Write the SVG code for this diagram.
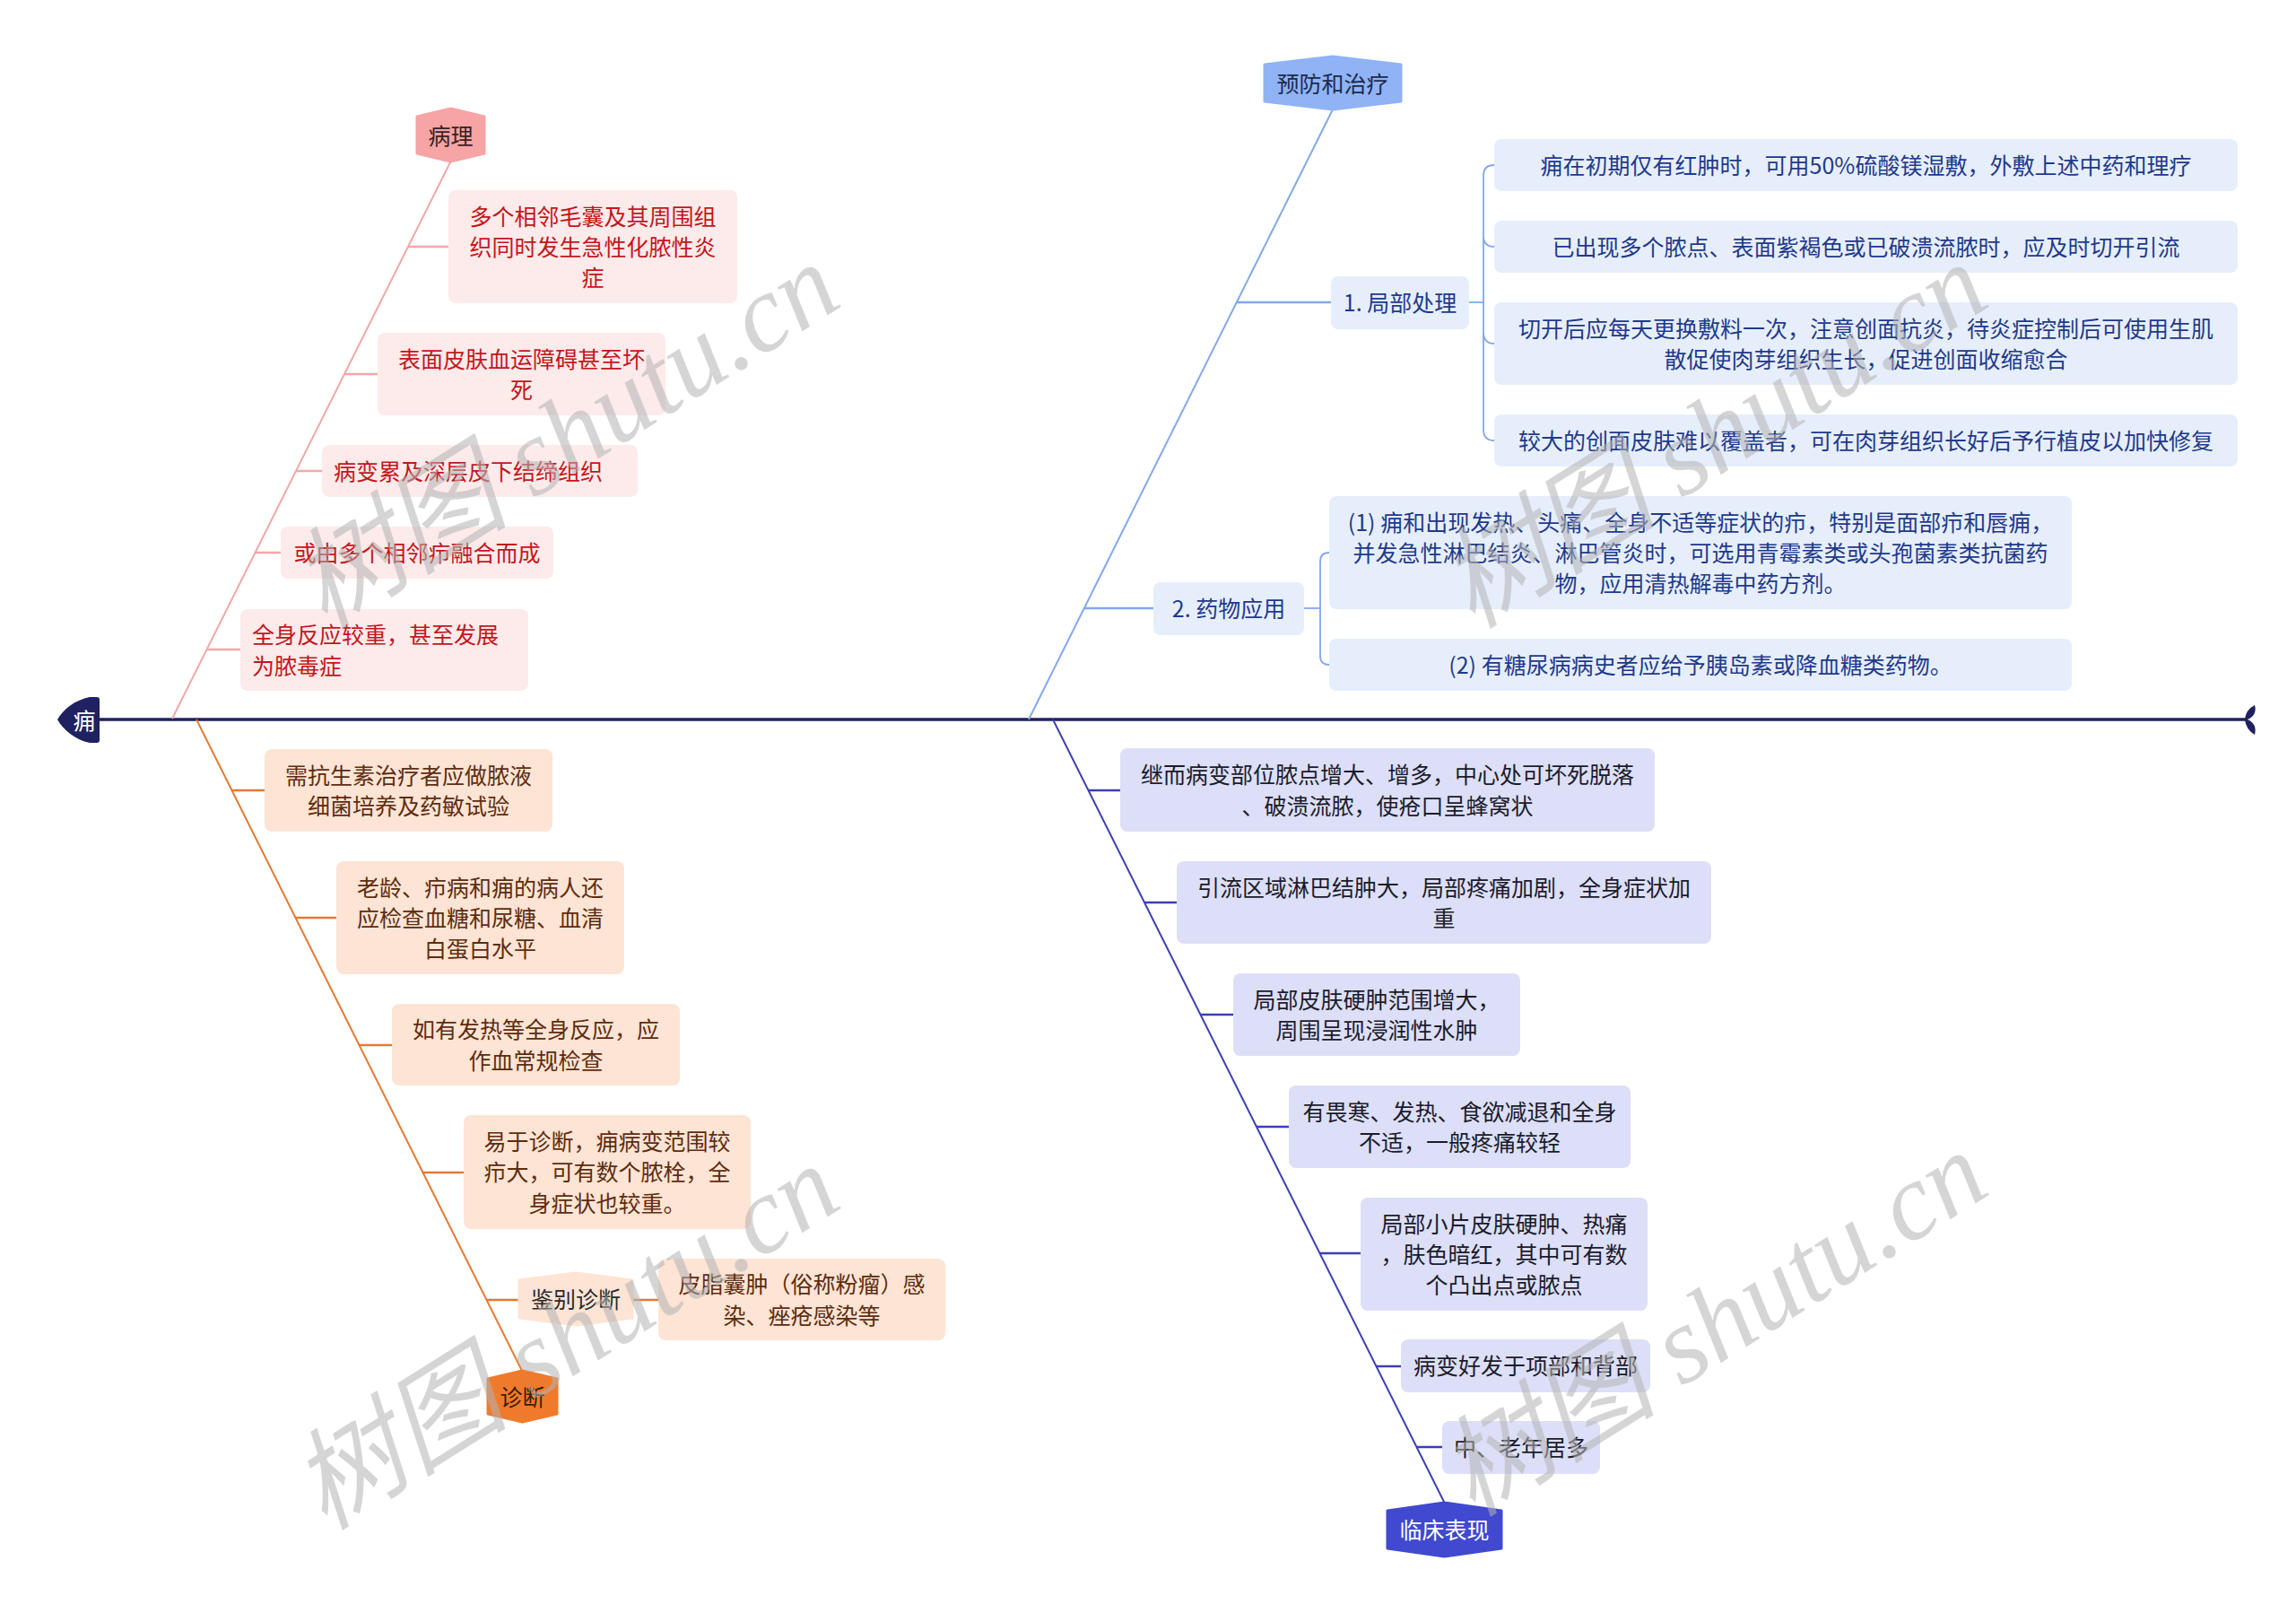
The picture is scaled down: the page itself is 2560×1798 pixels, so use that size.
<svg xmlns="http://www.w3.org/2000/svg" width="2560" height="1798" viewBox="0 0 2560 1798">
<style>
.t{font-family:"Noto Sans CJK SC","Noto Sans",sans-serif;font-size:25px;dominant-baseline:central;transform:translateY(-1.5px);}
.c{text-anchor:middle;}
.pb{fill:#fdeaea;}
.pt{fill:#c3161c;}
.ob{fill:#fde4d4;}
.ot{fill:#5e2c0f;}
.bb{fill:#e6eefc;}
.bt{fill:#1f3a8a;}
.ib{fill:#dcdff7;}
.it{fill:#1b1b2c;}
.lp{stroke:#f2a7a7;fill:none;}
.lo{stroke:#e27a36;fill:none;}
.lb{stroke:#82a8ea;fill:none;}
.li{stroke:#3b40b2;fill:none;}
.d{stroke-width:2;}
.h{stroke-width:2.5;}
.wm{font-family:"Liberation Serif","Noto Sans CJK SC",serif;font-style:italic;font-size:122px;fill:#b4b4b4;opacity:0.55;}
</style>
<rect width="2560" height="1798" fill="#ffffff"/>

<g id="connectors">
  <line x1="108" y1="802" x2="2504" y2="802" stroke="#1f2160" stroke-width="3.5"/>
  <path d="M2503,802 Q2504,791 2514,786 Q2517,797 2506,802 Z M2503,802 Q2504,813 2514,819 Q2517,807 2506,802 Z" fill="#1f2160"/>
  <line class="lp d" x1="192" y1="801" x2="503" y2="179"/>
  <line class="lp h" x1="455" y1="275" x2="500" y2="275"/>
  <line class="lp h" x1="384" y1="417" x2="421" y2="417"/>
  <line class="lp h" x1="330" y1="525" x2="359" y2="525"/>
  <line class="lp h" x1="284" y1="616" x2="313" y2="616"/>
  <line class="lp h" x1="230" y1="724" x2="268" y2="724"/>
  <line class="lo d" x1="219" y1="802" x2="582" y2="1528"/>
  <line class="lo h" x1="258" y1="881" x2="295" y2="881"/>
  <line class="lo h" x1="329" y1="1023" x2="375" y2="1023"/>
  <line class="lo h" x1="400" y1="1165" x2="437" y2="1165"/>
  <line class="lo h" x1="471" y1="1307" x2="517" y2="1307"/>
  <line class="lo h" x1="542" y1="1449" x2="579" y2="1449"/>
  <line class="lo h" x1="705" y1="1449" x2="734" y2="1449"/>
  <line class="lb d" x1="1147" y1="802" x2="1486" y2="122"/>
  <line class="lb h" x1="1379" y1="337" x2="1484" y2="337"/>
  <line class="lb h" x1="1209" y1="678" x2="1286" y2="678"/>
  <line class="lb" stroke-width="1.8" x1="1638" y1="337" x2="1654" y2="337"/>
  <path class="lb" stroke-width="1.8" d="M1666,184 Q1654,184 1654,196 L1654,479 Q1654,491 1666,491 M1654,263 Q1654,275 1666,275 M1654,370 Q1654,383 1666,383"/>
  <line class="lb" stroke-width="1.8" x1="1454" y1="678" x2="1472" y2="678"/>
  <path class="lb" stroke-width="1.8" d="M1482,616 Q1472,616 1472,626 L1472,731 Q1472,741 1482,741"/>
  <line class="li d" x1="1174" y1="802" x2="1611" y2="1676"/>
  <line class="li h" x1="1213" y1="881" x2="1249" y2="881"/>
  <line class="li h" x1="1276" y1="1006" x2="1312" y2="1006"/>
  <line class="li h" x1="1338" y1="1131" x2="1375" y2="1131"/>
  <line class="li h" x1="1401" y1="1256" x2="1437" y2="1256"/>
  <line class="li h" x1="1471" y1="1397" x2="1517" y2="1397"/>
  <line class="li h" x1="1534" y1="1523" x2="1562" y2="1523"/>
  <line class="li h" x1="1579" y1="1613" x2="1608" y2="1613"/>
</g>

<g id="root">
  <path d="M108,777 L100,777 C84,780 70,791 64,802 C70,813 84,825 100,828 L108,828 Q111,828 111,825 L111,780 Q111,777 108,777 Z" fill="#1f2160"/>
  <text class="t c" x="94" y="803" fill="#ffffff">痈</text>
</g>

<g id="n-bingli">
  <polygon points="502.5,121 540,130 540,171 502.5,180 465,171 465,130" fill="#f6a4a4" stroke="#f6a4a4" stroke-width="3" stroke-linejoin="round"/>
  <text class="t c" x="502.5" y="151" fill="#3a2222">病理</text>
</g>
<g id="p1"><rect class="pb" x="500" y="212" width="322" height="126" rx="8"/>
  <text class="t c pt" x="661"><tspan x="661" y="241">多个相邻毛囊及其周围组</tspan><tspan x="661" y="275">织同时发生急性化脓性炎</tspan><tspan x="661" y="309">症</tspan></text></g>
<g id="p2"><rect class="pb" x="421" y="371" width="321" height="92" rx="8"/>
  <text class="t c pt"><tspan x="581.5" y="400">表面皮肤血运障碍甚至坏</tspan><tspan x="581.5" y="434">死</tspan></text></g>
<g id="p3"><rect class="pb" x="359" y="496" width="352" height="58" rx="8"/>
  <text class="t pt" x="372" y="525">病变累及深层皮下结缔组织</text></g>
<g id="p4"><rect class="pb" x="313" y="587" width="304" height="58" rx="8"/>
  <text class="t c pt" x="465" y="616">或由多个相邻疖融合而成</text></g>
<g id="p5"><rect class="pb" x="268" y="679" width="321" height="91" rx="8"/>
  <text class="t pt"><tspan x="281" y="707">全身反应较重，甚至发展</tspan><tspan x="281" y="742">为脓毒症</tspan></text></g>

<g id="n-zhenduan">
  <polygon points="582.5,1528 621,1537 621,1576 582.5,1585 544,1576 544,1537" fill="#f07a2b" stroke="#f07a2b" stroke-width="3" stroke-linejoin="round"/>
  <text class="t c" x="582.5" y="1557" fill="#3a1a06">诊断</text>
</g>
<g id="o1"><rect class="ob" x="295" y="835" width="321" height="92" rx="8"/>
  <text class="t c ot"><tspan x="455.5" y="864">需抗生素治疗者应做脓液</tspan><tspan x="455.5" y="898">细菌培养及药敏试验</tspan></text></g>
<g id="o2"><rect class="ob" x="375" y="960" width="321" height="126" rx="8"/>
  <text class="t c ot"><tspan x="535.5" y="989">老龄、疖病和痈的病人还</tspan><tspan x="535.5" y="1023">应检查血糖和尿糖、血清</tspan><tspan x="535.5" y="1057">白蛋白水平</tspan></text></g>
<g id="o3"><rect class="ob" x="437" y="1119" width="321" height="91" rx="8"/>
  <text class="t c ot"><tspan x="597.5" y="1147">如有发热等全身反应，应</tspan><tspan x="597.5" y="1182">作血常规检查</tspan></text></g>
<g id="o4"><rect class="ob" x="517" y="1243" width="320" height="127" rx="8"/>
  <text class="t c ot"><tspan x="677" y="1272">易于诊断，痈病变范围较</tspan><tspan x="677" y="1306.5">疖大，可有数个脓栓，全</tspan><tspan x="677" y="1341">身症状也较重。</tspan></text></g>
<g id="o5">
  <polygon points="642,1419 705,1427 705,1469 642,1477 579,1469 579,1427" fill="#fde4d4" stroke="#fde4d4" stroke-width="3" stroke-linejoin="round"/>
  <text class="t c" x="642" y="1448" fill="#2a2a2a">鉴别诊断</text></g>
<g id="o6"><rect class="ob" x="734" y="1403" width="320" height="91" rx="8"/>
  <text class="t c ot"><tspan x="894" y="1431">皮脂囊肿（俗称粉瘤）感</tspan><tspan x="894" y="1466">染、痤疮感染等</tspan></text></g>

<g id="n-yufang">
  <polygon points="1486,63 1562,72 1562,113 1486,122 1410,113 1410,72" fill="#8fb3f5" stroke="#8fb3f5" stroke-width="3" stroke-linejoin="round"/>
  <text class="t c" x="1486" y="93" fill="#1c2a4e">预防和治疗</text>
</g>
<g id="b1"><rect class="bb" x="1484" y="308" width="154" height="59" rx="8"/>
  <text class="t c bt" x="1561" y="337.5">1. 局部处理</text></g>
<g id="b1a"><rect class="bb" x="1666" y="155" width="829" height="58" rx="8"/>
  <text class="t c bt" x="2080.5" y="184">痈在初期仅有红肿时，可用50%硫酸镁湿敷，外敷上述中药和理疗</text></g>
<g id="b1b"><rect class="bb" x="1666" y="246" width="829" height="58" rx="8"/>
  <text class="t c bt" x="2080.5" y="275">已出现多个脓点、表面紫褐色或已破溃流脓时，应及时切开引流</text></g>
<g id="b1c"><rect class="bb" x="1666" y="337" width="829" height="92" rx="8"/>
  <text class="t c bt"><tspan x="2080.5" y="366">切开后应每天更换敷料一次，注意创面抗炎，待炎症控制后可使用生肌</tspan><tspan x="2080.5" y="400">散促使肉芽组织生长，促进创面收缩愈合</tspan></text></g>
<g id="b1d"><rect class="bb" x="1666" y="462" width="829" height="58" rx="8"/>
  <text class="t c bt" x="2080.5" y="491">较大的创面皮肤难以覆盖者，可在肉芽组织长好后予行植皮以加快修复</text></g>
<g id="b2"><rect class="bb" x="1286" y="649" width="168" height="59" rx="8"/>
  <text class="t c bt" x="1370" y="678.5">2. 药物应用</text></g>
<g id="b2a"><rect class="bb" x="1482" y="553" width="828" height="126" rx="8"/>
  <text class="t c bt"><tspan x="1896" y="582">(1) 痈和出现发热、头痛、全身不适等症状的疖，特别是面部疖和唇痈，</tspan><tspan x="1896" y="616">并发急性淋巴结炎、淋巴管炎时，可选用青霉素类或头孢菌素类抗菌药</tspan><tspan x="1896" y="650">物，应用清热解毒中药方剂。</tspan></text></g>
<g id="b2b"><rect class="bb" x="1482" y="712" width="828" height="58" rx="8"/>
  <text class="t c bt" x="1896" y="741">(2) 有糖尿病病史者应给予胰岛素或降血糖类药物。</text></g>

<g id="n-linchuang">
  <polygon points="1610.5,1675 1674,1684 1674,1726 1610.5,1735 1547,1726 1547,1684" fill="#4049cf" stroke="#4049cf" stroke-width="3" stroke-linejoin="round"/>
  <text class="t c" x="1610.5" y="1705" fill="#ffffff">临床表现</text>
</g>
<g id="i1"><rect class="ib" x="1249" y="834" width="596" height="93" rx="8"/>
  <text class="t c it"><tspan x="1547" y="863">继而病变部位脓点增大、增多，中心处可坏死脱落</tspan><tspan x="1547" y="898">、破溃流脓，使疮口呈蜂窝状</tspan></text></g>
<g id="i2"><rect class="ib" x="1312" y="960" width="596" height="92" rx="8"/>
  <text class="t c it"><tspan x="1610" y="989">引流区域淋巴结肿大，局部疼痛加剧，全身症状加</tspan><tspan x="1610" y="1023">重</tspan></text></g>
<g id="i3"><rect class="ib" x="1375" y="1085" width="320" height="92" rx="8"/>
  <text class="t c it"><tspan x="1535" y="1114">局部皮肤硬肿范围增大，</tspan><tspan x="1535" y="1148">周围呈现浸润性水肿</tspan></text></g>
<g id="i4"><rect class="ib" x="1437" y="1210" width="381" height="92" rx="8"/>
  <text class="t c it"><tspan x="1627.5" y="1239">有畏寒、发热、食欲减退和全身</tspan><tspan x="1627.5" y="1273">不适，一般疼痛较轻</tspan></text></g>
<g id="i5"><rect class="ib" x="1517" y="1335" width="320" height="126" rx="8"/>
  <text class="t c it"><tspan x="1677" y="1364">局部小片皮肤硬肿、热痛</tspan><tspan x="1677" y="1398">，肤色暗红，其中可有数</tspan><tspan x="1677" y="1432">个凸出点或脓点</tspan></text></g>
<g id="i6"><rect class="ib" x="1562" y="1493" width="278" height="59" rx="8"/>
  <text class="t c it" x="1701" y="1522.5">病变好发于项部和背部</text></g>
<g id="i7"><rect class="ib" x="1608" y="1584" width="176" height="59" rx="8"/>
  <text class="t c it" x="1696" y="1613.5">中、老年居多</text></g>

<g id="watermarks">
  <text class="wm" transform="translate(362,702) rotate(-32)">树图 shutu.cn</text>
  <text class="wm" transform="translate(1642,702) rotate(-32)">树图 shutu.cn</text>
  <text class="wm" transform="translate(362,1707) rotate(-32)">树图 shutu.cn</text>
  <text class="wm" transform="translate(1642,1692) rotate(-32)">树图 shutu.cn</text>
</g>
</svg>
